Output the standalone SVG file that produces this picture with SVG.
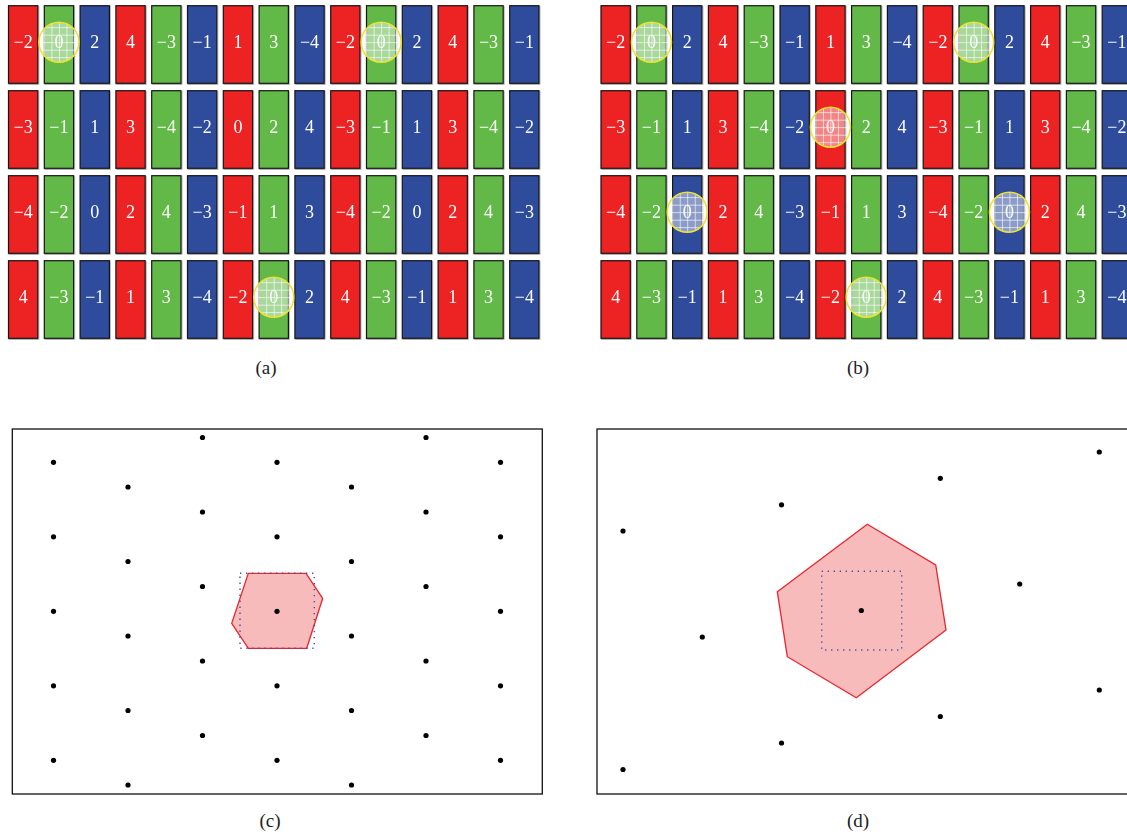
<svg xmlns="http://www.w3.org/2000/svg" width="1127" height="832" viewBox="0 0 1127 832">
<style>
.R{fill:#ED2024}.G{fill:#62B946}.B{fill:#2E4C9C}
.rw rect{stroke:#151515;stroke-width:1.2}
.rw text{font-family:"Liberation Serif",serif;font-size:18px;fill:#fff;text-anchor:middle}
.lbl{font-family:"Liberation Serif",serif;font-size:19px;fill:#222;text-anchor:middle}
.ov{fill:#fff;fill-opacity:0.45}
.ovg{fill:url(#grid)}
.ring{fill:none;stroke:#EDE230;stroke-width:1.6}
.box{fill:#fff;stroke:#111;stroke-width:1.3}
.dot{fill:#000}
.hex{fill:#F7BBBC;stroke:#E8262C;stroke-width:1.3}
.dotted{fill:none;stroke:#3F4FA8;stroke-width:1.4;stroke-dasharray:1.3 4.7}
</style>
<defs>
<pattern id="grid" width="7.5" height="7.5" patternUnits="userSpaceOnUse"><path d="M0 0.4H7.5M0.4 0V7.5" stroke="#fff" stroke-width="0.8" stroke-opacity="0.85"/></pattern>
<filter id="sh" x="-5%" y="-5%" width="110%" height="110%"><feDropShadow dx="0.6" dy="0.8" stdDeviation="0.7" flood-color="#777" flood-opacity="0.8"/></filter>
<g id="row1" class="rw"><rect class="R" x="0" width="29.3" height="77.6"/><text x="14.65" y="42.6">−2</text><rect class="G" x="35.8" width="29.3" height="77.6"/><text x="50.45" y="42.6">0</text><rect class="B" x="71.6" width="29.3" height="77.6"/><text x="86.25" y="42.6">2</text><rect class="R" x="107.4" width="29.3" height="77.6"/><text x="122.05" y="42.6">4</text><rect class="G" x="143.2" width="29.3" height="77.6"/><text x="157.85" y="42.6">−3</text><rect class="B" x="179" width="29.3" height="77.6"/><text x="193.65" y="42.6">−1</text><rect class="R" x="214.8" width="29.3" height="77.6"/><text x="229.45" y="42.6">1</text><rect class="G" x="250.6" width="29.3" height="77.6"/><text x="265.25" y="42.6">3</text><rect class="B" x="286.4" width="29.3" height="77.6"/><text x="301.05" y="42.6">−4</text><rect class="R" x="322.2" width="29.3" height="77.6"/><text x="336.85" y="42.6">−2</text><rect class="G" x="358" width="29.3" height="77.6"/><text x="372.65" y="42.6">0</text><rect class="B" x="393.8" width="29.3" height="77.6"/><text x="408.45" y="42.6">2</text><rect class="R" x="429.6" width="29.3" height="77.6"/><text x="444.25" y="42.6">4</text><rect class="G" x="465.4" width="29.3" height="77.6"/><text x="480.05" y="42.6">−3</text><rect class="B" x="501.2" width="29.3" height="77.6"/><text x="515.85" y="42.6">−1</text></g>
<g id="row2" class="rw"><rect class="R" x="0" width="29.3" height="77.6"/><text x="14.65" y="42.6">−3</text><rect class="G" x="35.8" width="29.3" height="77.6"/><text x="50.45" y="42.6">−1</text><rect class="B" x="71.6" width="29.3" height="77.6"/><text x="86.25" y="42.6">1</text><rect class="R" x="107.4" width="29.3" height="77.6"/><text x="122.05" y="42.6">3</text><rect class="G" x="143.2" width="29.3" height="77.6"/><text x="157.85" y="42.6">−4</text><rect class="B" x="179" width="29.3" height="77.6"/><text x="193.65" y="42.6">−2</text><rect class="R" x="214.8" width="29.3" height="77.6"/><text x="229.45" y="42.6">0</text><rect class="G" x="250.6" width="29.3" height="77.6"/><text x="265.25" y="42.6">2</text><rect class="B" x="286.4" width="29.3" height="77.6"/><text x="301.05" y="42.6">4</text><rect class="R" x="322.2" width="29.3" height="77.6"/><text x="336.85" y="42.6">−3</text><rect class="G" x="358" width="29.3" height="77.6"/><text x="372.65" y="42.6">−1</text><rect class="B" x="393.8" width="29.3" height="77.6"/><text x="408.45" y="42.6">1</text><rect class="R" x="429.6" width="29.3" height="77.6"/><text x="444.25" y="42.6">3</text><rect class="G" x="465.4" width="29.3" height="77.6"/><text x="480.05" y="42.6">−4</text><rect class="B" x="501.2" width="29.3" height="77.6"/><text x="515.85" y="42.6">−2</text></g>
<g id="row3" class="rw"><rect class="R" x="0" width="29.3" height="77.6"/><text x="14.65" y="42.6">−4</text><rect class="G" x="35.8" width="29.3" height="77.6"/><text x="50.45" y="42.6">−2</text><rect class="B" x="71.6" width="29.3" height="77.6"/><text x="86.25" y="42.6">0</text><rect class="R" x="107.4" width="29.3" height="77.6"/><text x="122.05" y="42.6">2</text><rect class="G" x="143.2" width="29.3" height="77.6"/><text x="157.85" y="42.6">4</text><rect class="B" x="179" width="29.3" height="77.6"/><text x="193.65" y="42.6">−3</text><rect class="R" x="214.8" width="29.3" height="77.6"/><text x="229.45" y="42.6">−1</text><rect class="G" x="250.6" width="29.3" height="77.6"/><text x="265.25" y="42.6">1</text><rect class="B" x="286.4" width="29.3" height="77.6"/><text x="301.05" y="42.6">3</text><rect class="R" x="322.2" width="29.3" height="77.6"/><text x="336.85" y="42.6">−4</text><rect class="G" x="358" width="29.3" height="77.6"/><text x="372.65" y="42.6">−2</text><rect class="B" x="393.8" width="29.3" height="77.6"/><text x="408.45" y="42.6">0</text><rect class="R" x="429.6" width="29.3" height="77.6"/><text x="444.25" y="42.6">2</text><rect class="G" x="465.4" width="29.3" height="77.6"/><text x="480.05" y="42.6">4</text><rect class="B" x="501.2" width="29.3" height="77.6"/><text x="515.85" y="42.6">−3</text></g>
<g id="row4" class="rw"><rect class="R" x="0" width="29.3" height="77.6"/><text x="14.65" y="42.6">4</text><rect class="G" x="35.8" width="29.3" height="77.6"/><text x="50.45" y="42.6">−3</text><rect class="B" x="71.6" width="29.3" height="77.6"/><text x="86.25" y="42.6">−1</text><rect class="R" x="107.4" width="29.3" height="77.6"/><text x="122.05" y="42.6">1</text><rect class="G" x="143.2" width="29.3" height="77.6"/><text x="157.85" y="42.6">3</text><rect class="B" x="179" width="29.3" height="77.6"/><text x="193.65" y="42.6">−4</text><rect class="R" x="214.8" width="29.3" height="77.6"/><text x="229.45" y="42.6">−2</text><rect class="G" x="250.6" width="29.3" height="77.6"/><text x="265.25" y="42.6">0</text><rect class="B" x="286.4" width="29.3" height="77.6"/><text x="301.05" y="42.6">2</text><rect class="R" x="322.2" width="29.3" height="77.6"/><text x="336.85" y="42.6">4</text><rect class="G" x="358" width="29.3" height="77.6"/><text x="372.65" y="42.6">−3</text><rect class="B" x="393.8" width="29.3" height="77.6"/><text x="408.45" y="42.6">−1</text><rect class="R" x="429.6" width="29.3" height="77.6"/><text x="444.25" y="42.6">1</text><rect class="G" x="465.4" width="29.3" height="77.6"/><text x="480.05" y="42.6">3</text><rect class="B" x="501.2" width="29.3" height="77.6"/><text x="515.85" y="42.6">−4</text></g>
<g id="mark"><circle class="ov" r="20"/><circle class="ovg" r="20"/><circle class="ring" r="20"/></g>
</defs>
<rect width="1127" height="832" fill="#fff"/>

<g id="panel-a">
<g transform="translate(8.5,0)">
<use href="#row1" y="5.7" filter="url(#sh)"/>
<use href="#row2" y="90.7" filter="url(#sh)"/>
<use href="#row3" y="175.7" filter="url(#sh)"/>
<use href="#row4" y="260.7" filter="url(#sh)"/>
<use href="#mark" x="50.45" y="42.2"/>
<use href="#mark" x="372.65" y="42.2"/>
<use href="#mark" x="265.25" y="297.2"/>
</g>
<text class="lbl" x="266" y="374">(a)</text>
</g>

<g id="panel-b">
<g transform="translate(601,0)">
<use href="#row1" y="5.7" filter="url(#sh)"/>
<use href="#row2" y="90.7" filter="url(#sh)"/>
<use href="#row3" y="175.7" filter="url(#sh)"/>
<use href="#row4" y="260.7" filter="url(#sh)"/>
<use href="#mark" x="50.45" y="42.2"/>
<use href="#mark" x="372.65" y="42.2"/>
<use href="#mark" x="229.45" y="127.2"/>
<use href="#mark" x="86.25" y="212.2"/>
<use href="#mark" x="408.45" y="212.2"/>
<use href="#mark" x="265.25" y="297.2"/>
</g>
<text class="lbl" x="858" y="374">(b)</text>
</g>

<g id="panel-c">
<rect class="box" x="12.3" y="429" width="530" height="365"/>
<polygon class="hex" points="248.3,573.3 306,573.3 322.7,598.3 306.7,648.3 248.3,648.3 231.7,623.3"/>
<rect class="dotted" x="240" y="573.3" width="74.3" height="75"/>
<g id="dots-c">
<circle class="dot" cx="53.5" cy="462.3" r="2.6"/><circle class="dot" cx="53.5" cy="536.8" r="2.6"/><circle class="dot" cx="53.5" cy="611.3" r="2.6"/><circle class="dot" cx="53.5" cy="685.8" r="2.6"/><circle class="dot" cx="53.5" cy="760.3" r="2.6"/>
<circle class="dot" cx="128" cy="487" r="2.6"/><circle class="dot" cx="128" cy="561.5" r="2.6"/><circle class="dot" cx="128" cy="636" r="2.6"/><circle class="dot" cx="128" cy="710.5" r="2.6"/><circle class="dot" cx="128" cy="785" r="2.6"/>
<circle class="dot" cx="202.5" cy="437.5" r="2.6"/><circle class="dot" cx="202.5" cy="512" r="2.6"/><circle class="dot" cx="202.5" cy="586.5" r="2.6"/><circle class="dot" cx="202.5" cy="661" r="2.6"/><circle class="dot" cx="202.5" cy="735.5" r="2.6"/>
<circle class="dot" cx="277" cy="462.3" r="2.6"/><circle class="dot" cx="277" cy="536.8" r="2.6"/><circle class="dot" cx="277" cy="611.3" r="2.6"/><circle class="dot" cx="277" cy="685.8" r="2.6"/><circle class="dot" cx="277" cy="760.3" r="2.6"/>
<circle class="dot" cx="351.5" cy="487" r="2.6"/><circle class="dot" cx="351.5" cy="561.5" r="2.6"/><circle class="dot" cx="351.5" cy="636" r="2.6"/><circle class="dot" cx="351.5" cy="710.5" r="2.6"/><circle class="dot" cx="351.5" cy="785" r="2.6"/>
<circle class="dot" cx="426" cy="437.5" r="2.6"/><circle class="dot" cx="426" cy="512" r="2.6"/><circle class="dot" cx="426" cy="586.5" r="2.6"/><circle class="dot" cx="426" cy="661" r="2.6"/><circle class="dot" cx="426" cy="735.5" r="2.6"/>
<circle class="dot" cx="500.5" cy="462.3" r="2.6"/><circle class="dot" cx="500.5" cy="536.8" r="2.6"/><circle class="dot" cx="500.5" cy="611.3" r="2.6"/><circle class="dot" cx="500.5" cy="685.8" r="2.6"/><circle class="dot" cx="500.5" cy="760.3" r="2.6"/>
</g>
<text class="lbl" x="270" y="827">(c)</text>
</g>

<g id="panel-d">
<rect class="box" x="597" y="429" width="531" height="365"/>
<polygon class="hex" points="867.3,524.3 935.7,565 946,630 856.3,697.7 787.3,656.7 777.3,591.7"/>
<rect class="dotted" x="821.7" y="571.3" width="80" height="78.7"/>
<g id="dots-d">
<circle class="dot" cx="623" cy="531" r="2.6"/><circle class="dot" cx="781.5" cy="504.8" r="2.6"/><circle class="dot" cx="940.3" cy="478.3" r="2.6"/><circle class="dot" cx="1099.3" cy="452" r="2.6"/>
<circle class="dot" cx="702.3" cy="637" r="2.6"/><circle class="dot" cx="861.3" cy="610.5" r="2.6"/><circle class="dot" cx="1019.7" cy="584" r="2.6"/>
<circle class="dot" cx="623" cy="769.5" r="2.6"/><circle class="dot" cx="781.5" cy="743" r="2.6"/><circle class="dot" cx="940.3" cy="716.5" r="2.6"/><circle class="dot" cx="1099.3" cy="690" r="2.6"/>
</g>
<text class="lbl" x="858" y="827">(d)</text>
</g>
</svg>
